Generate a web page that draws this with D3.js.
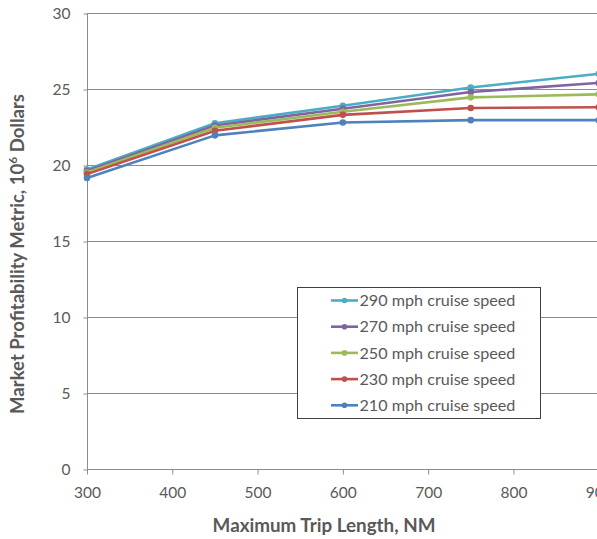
<!DOCTYPE html>
<html><head><meta charset="utf-8">
<script src="https://cdn.jsdelivr.net/npm/d3@7"></script>
<style>body{margin:0;background:#fff}svg{display:block}</style>
</head><body>
<svg id="c" width="597" height="539"></svg>
<script>
const tripLengths = [300, 450, 600, 750, 900];
const seriesNames = ["290 mph cruise speed","270 mph cruise speed","250 mph cruise speed","230 mph cruise speed","210 mph cruise speed"];
const s290 = [19.7, 22.75, 23.9, 25.1, 26.0];
const s270 = [19.6, 22.6, 23.7, 24.8, 25.4];
const s250 = [19.5, 22.45, 23.5, 24.45, 24.65];
const s230 = [19.4, 22.25, 23.3, 23.75, 23.8];
const s210 = [19.15, 21.95, 22.8, 22.95, 22.95];
const colors = ["#4BACC6","#8064A2","#9BBB59","#C0504D","#4F81BD"];
const xTicks = [300,400,500,600,700,800,900];
const yTicks = [0,5,10,15,20,25,30];
const allSeries = [s290,s270,s250,s230,s210];

const svg = d3.select("#c");
const FONT = "Lato, 'Open Sans', sans-serif";
const x = d3.scaleLinear().domain([300,900]).range([87,598.7]);
const y = d3.scaleLinear().domain([0,30]).range([469,13]);

function fit(t, w){
  const n = t.node(); const fs = parseFloat(t.attr("font-size"));
  const cw = n.getComputedTextLength();
  if (cw>0) t.attr("font-size", fs*w/cw);
}

// gridlines
svg.append("g").selectAll("line").data(yTicks.filter(d=>d>0)).join("line")
  .attr("x1",87).attr("x2",597).attr("y1",d=>y(d)+0.5).attr("y2",d=>y(d)+0.5)
  .attr("stroke","#8c8c8c").attr("stroke-width",1);

// y axis
const gy = svg.append("g").attr("transform","translate(87.5,0.5)")
  .call(d3.axisLeft(y).tickValues(yTicks).tickSize(4).tickPadding(13));
gy.select(".domain").attr("stroke","#8c8c8c").attr("d","M0,"+(y(30)-0.5)+"V"+(y(0)-0.5));
gy.selectAll(".tick line").attr("stroke","#8c8c8c");
gy.selectAll("text").attr("font-family",FONT).attr("font-size",15.5).attr("fill","#595959");

// x axis
const gx = svg.append("g").attr("transform","translate(0,469.5)")
  .call(d3.axisBottom(x).tickValues(xTicks).tickSize(5).tickPadding(12).tickSizeOuter(0));
gx.select(".domain").attr("stroke","#8c8c8c").attr("d","M87,0H597");
gx.selectAll(".tick line").attr("stroke","#8c8c8c");
gx.selectAll("text").attr("font-family",FONT).attr("font-size",15.5).attr("fill","#595959");

// series
const line = d3.line().x((d,i)=>x(tripLengths[i])).y(d=>y(d));
allSeries.forEach((s,k)=>{
  svg.append("path").datum(s).attr("d",line).attr("fill","none")
    .attr("stroke",colors[k]).attr("stroke-width",2.6).attr("stroke-linejoin","round");
  svg.append("g").selectAll("circle").data(s).join("circle")
    .attr("cx",(d,i)=>x(tripLengths[i])).attr("cy",d=>y(d)).attr("r",3.3).attr("fill",colors[k]);
});

// legend
const lg = svg.append("g");
lg.append("rect").attr("x",297.5).attr("y",287.5).attr("width",243).attr("height",131)
  .attr("fill","#fff").attr("stroke","#404040").attr("stroke-width",1);
seriesNames.forEach((n,k)=>{
  const cy = 300.5 + k*26.2;
  lg.append("line").attr("x1",331).attr("x2",358).attr("y1",cy).attr("y2",cy)
    .attr("stroke",colors[k]).attr("stroke-width",2.6);
  lg.append("circle").attr("cx",344.5).attr("cy",cy).attr("r",2.8).attr("fill",colors[k]);
  const t = lg.append("text").attr("x",359.5).attr("y",cy).attr("dy","0.35em")
    .attr("font-family",FONT).attr("font-size",15).attr("fill","#595959").text(n);
  fit(t,156);
});

// axis titles
const xt = svg.append("text").attr("x",324).attr("y",525).attr("dy","0.35em").attr("text-anchor","middle")
  .attr("font-family",FONT).attr("font-weight","bold").attr("font-size",16).attr("fill","#595959")
  .text("Maximum Trip Length, NM");
fit(xt,223);

const yt = svg.append("text").attr("transform","translate(17,254) rotate(-90)").attr("dy","0.35em")
  .attr("text-anchor","middle").attr("font-family",FONT).attr("font-weight","bold").attr("font-size",16).attr("fill","#595959");
yt.append("tspan").text("Market Profitability Metric, 10");
yt.append("tspan").attr("baseline-shift","super").attr("font-size","0.65em").text("6");
yt.append("tspan").text(" Dollars");
fit(yt,320);
</script>
</body></html>
